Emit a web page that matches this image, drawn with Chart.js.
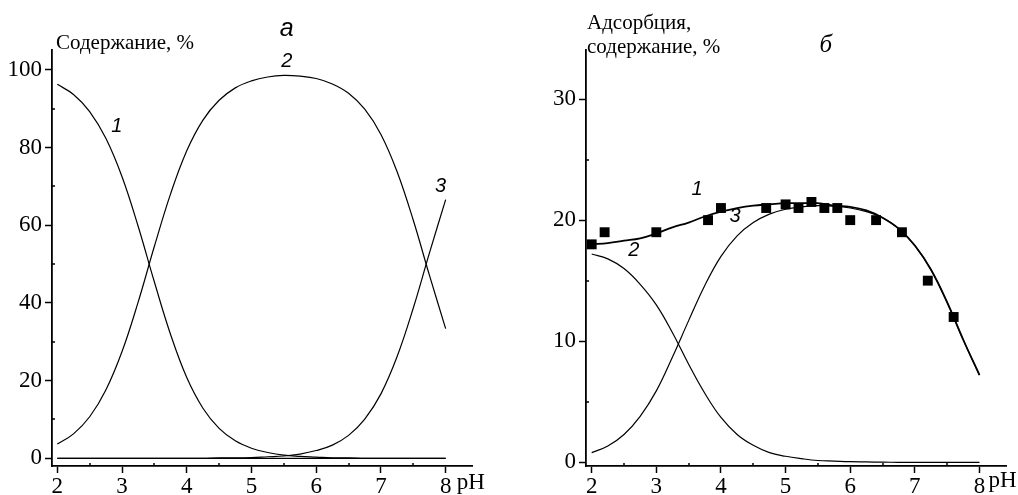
<!DOCTYPE html>
<html lang="ru">
<head>
<meta charset="utf-8">
<title>Содержание и адсорбция от pH</title>
<script src="https://cdn.jsdelivr.net/npm/chart.js@4.4.1/dist/chart.umd.min.js"></script>
<style>
  html, body { margin: 0; padding: 0; background: #fff; }
  #wrap { width: 1018px; height: 495px; display: flex; }
  .panel { width: 509px; height: 495px; position: relative; }
</style>
</head>
<body>
<div id="wrap">
  <div class="panel"><canvas id="chart-a" width="509" height="495"></canvas></div>
  <div class="panel"><canvas id="chart-b" width="509" height="495"></canvas></div>
</div>
<script>
// Сетка pH для расчётных кривых
const phGrid = [2.0, 2.25, 2.5, 2.75, 3.0, 3.25, 3.5, 3.75, 4.0, 4.25, 4.5, 4.75,
                5.0, 5.25, 5.5, 5.75, 6.0, 6.25, 6.5, 6.75, 7.0, 7.25, 7.5, 7.75, 8.0];

// Панель а: содержание форм, %
const leftCurve1 = [96.3, 93.7, 89.3, 82.4, 72.5, 59.7, 45.4, 31.9, 20.8, 12.9, 7.7, 4.5,
                    2.6, 1.5, 0.8, 0.5, 0.3, 0.1, 0.1, 0, 0, 0, 0, 0, 0];
const leftCurve2 = [3.7, 6.3, 10.7, 17.6, 27.5, 40.3, 54.6, 68.1, 79.2, 87.1, 92.2, 95.4,
                    97.2, 98.2, 98.6, 98.4, 97.8, 96.4, 94.0, 89.9, 83.4, 73.8, 61.3, 47.1, 33.4];
const leftCurve3 = [0, 0, 0, 0, 0, 0, 0, 0, 0, 0, 0.1, 0.1,
                    0.2, 0.4, 0.6, 1.1, 2.0, 3.4, 5.9, 10.1, 16.6, 26.2, 38.7, 52.9, 66.6];
const leftZeroPh = [2, 8];
const leftZeroLine = [0, 0];

// Панель б: адсорбция и содержание, %
const rightCurve1 = [18.0, 18.1, 18.3, 18.5, 18.9, 19.4, 19.8, 20.3, 20.7, 21.0, 21.2, 21.3,
                     21.4, 21.4, 21.4, 21.2, 21.1, 20.8, 20.2, 19.3, 17.9, 15.9, 13.2, 10.1, 7.2];
const rightCurve2 = [17.2, 16.8, 16.0, 14.7, 13.0, 10.7, 8.1, 5.7, 3.7, 2.3, 1.4, 0.8,
                     0.5, 0.3, 0.15, 0.1, 0.05, 0.03, 0.01, 0, 0, 0, 0, 0, 0];
const rightCurve3 = [0.8, 1.35, 2.3, 3.8, 5.9, 8.7, 11.7, 14.6, 17.0, 18.7, 19.8, 20.5,
                     20.9, 21.1, 21.2, 21.15, 21.0, 20.7, 20.2, 19.3, 17.9, 15.9, 13.2, 10.1, 7.2];
const adsorptionPh = [2.0, 2.2, 3.0, 3.8, 4.0, 4.7, 5.0, 5.2, 5.4, 5.6, 5.8, 6.0, 6.4, 6.8, 7.2, 7.6];
const adsorptionValues = [18, 19, 19, 20, 21, 21, 21.3, 21, 21.5, 21, 21, 20, 20, 19, 15, 12];

// Деления осей
const xTicks = [2, 3, 4, 5, 6, 7, 8];
const xMinorTicks = [2.5, 3.5, 4.5, 5.5, 6.5, 7.5];
const leftYTicks = [0, 20, 40, 60, 80, 100];
const leftYMinorTicks = [10, 30, 50, 70, 90];
const rightYTicks = [0, 10, 20, 30];
const rightYMinorTicks = [5, 15, 25];

function toPoints(xs, ys) {
    return xs.map((x, i) => ({ x: x, y: ys[i] }));
}

function curve(xs, ys, width) {
    return {
        type: 'line',
        data: toPoints(xs, ys),
        borderColor: '#000',
        borderWidth: width,
        pointRadius: 0,
        tension: 0.4,
        fill: false
    };
}

// Малые деления, подписи кривых и "pH"
const panelDecor = {
    id: 'panelDecor',
    afterDraw(chart, args, opts) {
        const ctx = chart.ctx;
        const xs = chart.scales.x;
        const ys = chart.scales.y;
        const area = chart.chartArea;
        ctx.save();
        ctx.strokeStyle = '#000';
        ctx.lineWidth = 1.5;
        ctx.beginPath();
        opts.xMinor.forEach(v => {
            const px = Math.round(xs.getPixelForValue(v));
            ctx.moveTo(px, area.bottom);
            ctx.lineTo(px, area.bottom - 3);
        });
        opts.yMinor.forEach(v => {
            const py = Math.round(ys.getPixelForValue(v));
            ctx.moveTo(area.left, py);
            ctx.lineTo(area.left + 3, py);
        });
        ctx.stroke();

        ctx.fillStyle = '#000';
        ctx.textBaseline = 'middle';
        opts.texts.forEach(t => {
            ctx.font = t.font;
            ctx.textAlign = t.align || 'center';
            const x = t.px !== undefined ? t.px : xs.getPixelForValue(t.x);
            const y = t.py !== undefined ? t.py : ys.getPixelForValue(t.y);
            ctx.fillText(t.text, x, y);
        });

        // подпись "pH" справа от последнего деления
        ctx.font = '23px "Liberation Serif"';
        ctx.textAlign = 'left';
        ctx.fillText('pH', xs.getPixelForValue(8) + opts.phShift, opts.phY);
        ctx.restore();
    }
};

function makeOptions(cfg) {
    const tickFont = { family: '"Liberation Serif"', size: 23 };
    return {
        responsive: false,
        animation: false,
        layout: { padding: { top: 50, right: cfg.padRight, bottom: 0, left: 0 } },
        scales: {
            x: {
                type: 'linear',
                min: cfg.xMin,
                max: cfg.xMax,
                afterBuildTicks: s => { s.ticks = xTicks.map(v => ({ value: v })); },
                afterFit: s => { s.height = 29; },
                border: { display: true, color: '#000', width: 1.8 },
                grid: { display: true, drawOnChartArea: false, drawTicks: true, tickLength: 7, tickWidth: 1.5, tickColor: '#000' },
                ticks: { color: '#000', font: tickFont, padding: 0, maxRotation: 0, autoSkip: false }
            },
            y: {
                type: 'linear',
                min: cfg.yMin,
                max: cfg.yMax,
                afterBuildTicks: s => { s.ticks = cfg.yTicks.map(v => ({ value: v })); },
                afterFit: s => { s.width = cfg.yWidth; },
                border: { display: true, color: '#000', width: 1.8 },
                grid: { display: true, drawOnChartArea: false, drawTicks: true, tickLength: 7, tickWidth: 1.5, tickColor: '#000' },
                ticks: { color: '#000', font: tickFont, padding: 3, autoSkip: false }
            }
        },
        plugins: {
            legend: { display: false },
            tooltip: { enabled: false },
            panelDecor: {
                xMinor: xMinorTicks,
                yMinor: cfg.yMinor,
                texts: cfg.texts,
                phShift: cfg.phShift,
                phY: cfg.phY
            }
        }
    };
}

const labelFont = 'italic 20px "Liberation Sans"';

// Панель а
new Chart(document.getElementById('chart-a'), {
    type: 'line',
    data: {
        datasets: [
            curve(phGrid, leftCurve1, 1.2),
            curve(phGrid, leftCurve2, 1.2),
            curve(phGrid, leftCurve3, 1.2),
            curve(leftZeroPh, leftZeroLine, 1.2)
        ]
    },
    options: makeOptions({
        padRight: 37, yWidth: 52,
        xMin: 1.918, xMax: 8.407,
        yMin: -1.98, yMax: 105.15,
        yTicks: leftYTicks, yMinor: leftYMinorTicks,
        phShift: 11, phY: 483,
        texts: [
            { text: 'Содержание, %', font: '21px "Liberation Serif"', align: 'left', px: 56, py: 43 },
            { text: 'а', font: 'italic 25px "Liberation Sans"', x: 5.545, py: 29 },
            { text: '1', font: labelFont, x: 2.92, y: 85.4 },
            { text: '2', font: labelFont, x: 5.545, y: 102.3 },
            { text: '3', font: labelFont, x: 7.92, y: 69.9 }
        ]
    }),
    plugins: [panelDecor]
});

// Панель б
new Chart(document.getElementById('chart-b'), {
    type: 'line',
    data: {
        datasets: [
            curve(phGrid, rightCurve2, 1.2),
            curve(phGrid, rightCurve3, 1.2),
            curve(phGrid, rightCurve1, 1.8),
            {
                type: 'scatter',
                data: toPoints(adsorptionPh, adsorptionValues),
                pointStyle: 'rect',
                pointRadius: 7,
                backgroundColor: '#000',
                borderColor: '#000',
                borderWidth: 0,
                showLine: false
            }
        ]
    },
    options: makeOptions({
        padRight: 12, yWidth: 77,
        xMin: 1.912, xMax: 8.41,
        yMin: -0.306, yMax: 34.05,
        yTicks: rightYTicks, yMinor: rightYMinorTicks,
        phShift: 9, phY: 481,
        texts: [
            { text: 'Адсорбция,', font: '21px "Liberation Serif"', align: 'left', px: 78, py: 23 },
            { text: 'содержание, %', font: '21px "Liberation Serif"', align: 'left', px: 78, py: 47 },
            { text: 'б', font: 'italic 25px "Liberation Serif"', x: 5.62, py: 45 },
            { text: '1', font: labelFont, x: 3.63, y: 22.5 },
            { text: '2', font: labelFont, x: 2.65, y: 17.5 },
            { text: '3', font: labelFont, x: 4.22, y: 20.3 }
        ]
    }),
    plugins: [panelDecor]
});
</script>
</body>
</html>
